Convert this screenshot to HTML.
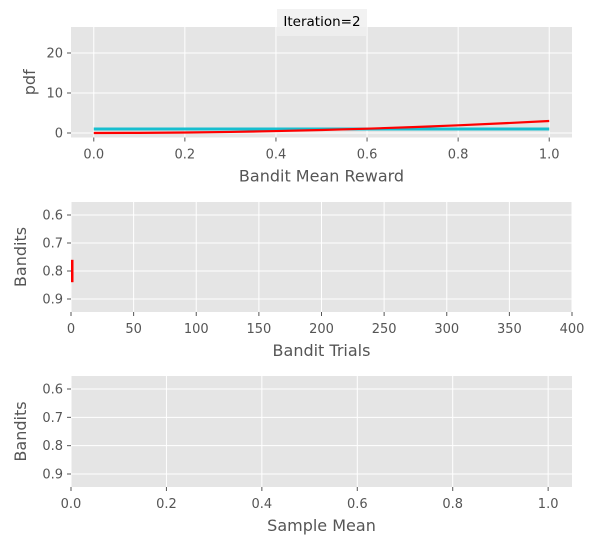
<!DOCTYPE html>
<html><head><meta charset="utf-8"><style>
body{margin:0;background:#fff;}
svg{display:block;font-family:"DejaVu Sans","Liberation Sans",sans-serif;}
.tk{font-size:13px;fill:#555;}
.lb{font-size:16px;fill:#555;}
</style></head><body>
<svg id="c" width="600" height="550"></svg>
<script>
const pdfX = [0,0.1,0.2,0.3,0.4,0.5,0.6,0.7,0.8,0.9,1.0];
const redPdf = [0,0.03,0.12,0.27,0.48,0.75,1.08,1.47,1.92,2.43,3.0];
const cyanPdf = [1,1,1,1,1,1,1,1,1,1,1];
const topXTicks = [0,0.2,0.4,0.6,0.8,1.0];
const topYTicks = [0,10,20];
const banditLabels = [0.6,0.7,0.8,0.9];
const trialBandits = [0.8];
const trialCounts = [2];
const trialTicks = [0,50,100,150,200,250,300,350,400];
const meanBandits = [];
const meanValues = [];
const meanTicks = [0,0.2,0.4,0.6,0.8,1.0];

const NS="http://www.w3.org/2000/svg", svg=document.getElementById('c');
function el(t,a,txt){const e=document.createElementNS(NS,t);for(const k in a)e.setAttribute(k,a[k]);if(txt!==undefined)e.textContent=txt;svg.appendChild(e);return e;}
function lin(d0,d1,r0,r1){return v=>r0+(v-d0)/(d1-d0)*(r1-r0);}
const L=71,R=572;
function panel(name,top,bot,sx,sy,xt,yt,xfmt,yfmt,xlab,ylab){
  const bg=el('rect',{x:L,y:top,width:R-L,height:bot-top,fill:'#e5e5e5'});
  
  
  xt.forEach(v=>{const x=sx(v);
    el('line',{x1:x,x2:x,y1:top,y2:bot,stroke:'#fff','stroke-width':1});
    el('line',{x1:x,x2:x,y1:bot,y2:bot+4,stroke:'#555'});
    const t=el('text',{x:x,y:bot+21,'text-anchor':'middle',class:'tk'},xfmt(v));
    
    });
  yt.forEach(v=>{const y=sy(v);
    el('line',{x1:L,x2:R,y1:y,y2:y,stroke:'#fff','stroke-width':1});
    el('line',{x1:L-4,x2:L,y1:y,y2:y,stroke:'#555'});
    const t=el('text',{x:L-8,y:y+4.5,'text-anchor':'end',class:'tk'},yfmt(v));
    
    });
  const xl=el('text',{x:(L+R)/2,y:bot+44,'text-anchor':'middle',class:'lb'},xlab);
  
  
  const cy=(top+bot)/2;
  const yl=el('text',{x:0,y:0,'text-anchor':'middle',class:'lb',transform:`translate(${ylab[1]},${cy}) rotate(-90)`},ylab[0]);
  
  
}
// top
const sx1=lin(-0.05,1.05,L,R), sy1=lin(0,20,133,53);
panel('pdf',27,137.5,sx1,sy1,topXTicks,topYTicks,v=>v.toFixed(1),v=>String(v),'Bandit Mean Reward',['pdf',35]);
function pts(ys){return pdfX.map((x,i)=>sx1(x)+','+sy1(ys[i])).join(' ');}
const cl=el('polyline',{points:pts(cyanPdf),fill:'none',stroke:'#17becf','stroke-width':3});


const rl=el('polyline',{points:pts(redPdf),fill:'none',stroke:'#ff0000','stroke-width':2.2});


const tb=el('rect',{x:277,y:9,width:90,height:27,fill:'#f0f0f0',opacity:0.85});


const tt=el('text',{x:322,y:26,'text-anchor':'middle','font-size':'13.5px',fill:'#000'},'Iteration=2');


// middle
const sx2=lin(0,400,L,R), sy2=lin(0.6,0.9,215,299);
panel('trials',202,312,sx2,sy2,trialTicks,banditLabels,v=>String(v),v=>v.toFixed(1),'Bandit Trials',['Bandits',26]);
trialCounts.forEach((c,i)=>{const b=el('rect',{x:sx2(0),y:sy2(trialBandits[i]-0.04),width:sx2(c)-sx2(0),height:sy2(trialBandits[i]+0.04)-sy2(trialBandits[i]-0.04),fill:'#ff0000'});
  
  });
// bottom
const sx3=lin(0,1.05,L,R), sy3=lin(0.6,0.9,389,474);
panel('mean',376,487,sx3,sy3,meanTicks,banditLabels,v=>v.toFixed(1),v=>v.toFixed(1),'Sample Mean',['Bandits',26]);
meanValues.forEach((c,i)=>{const b=el('rect',{x:sx3(0),y:sy3(meanBandits[i]-0.04),width:sx3(c)-sx3(0),height:sy3(meanBandits[i]+0.04)-sy3(meanBandits[i]-0.04),fill:'#ff0000'});
  
  });
</script>
</body></html>
